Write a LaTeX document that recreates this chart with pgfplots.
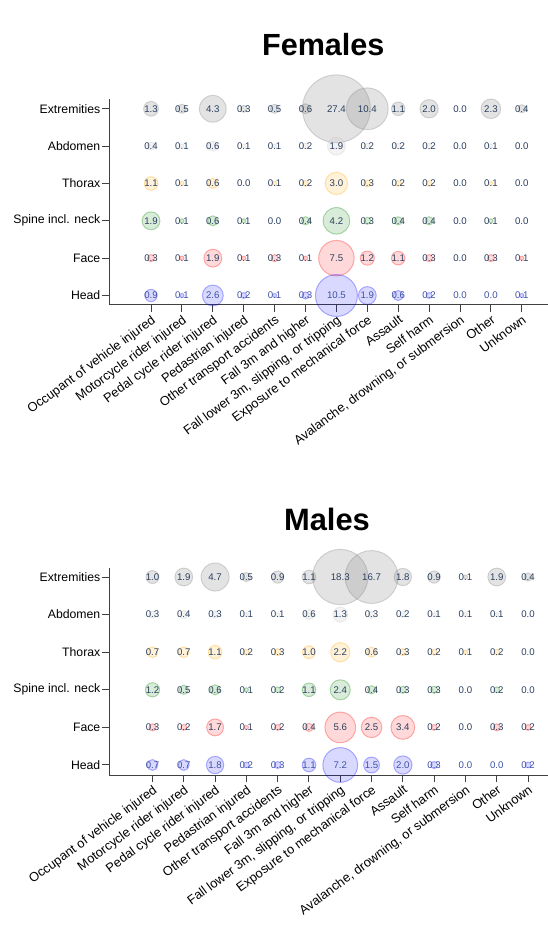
\documentclass[border=0pt]{standalone}
\usepackage{pgfplots}
\pgfplotsset{compat=1.18}
\usepackage{pgfplotstable}
\usepackage{fontspec}
\setmainfont{Liberation Sans}

\definecolor{txt}{HTML}{2A3F5F}
\definecolor{txthead}{RGB}{62,82,160}
\definecolor{cext}{RGB}{128,128,128}
\definecolor{cabd}{RGB}{200,200,200}
\definecolor{ctho}{RGB}{255,165,0}
\definecolor{cspi}{RGB}{0,128,0}
\definecolor{cfac}{RGB}{255,0,0}
\definecolor{chea}{RGB}{0,0,255}

\pgfplotstableread{
x ext abd tho spi fac hea
0 1.3 0.4 1.1 1.9 0.3 0.9
1 0.5 0.1 0.1 0.1 0.1 0.1
2 4.3 0.6 0.6 0.6 1.9 2.6
3 0.3 0.1 0.0 0.1 0.1 0.2
4 0.5 0.1 0.1 0.0 0.3 0.1
5 0.6 0.2 0.2 0.4 0.1 0.3
6 27.4 1.9 3.0 4.2 7.5 10.5
7 10.4 0.2 0.3 0.3 1.2 1.9
8 1.1 0.2 0.2 0.4 1.1 0.6
9 2.0 0.2 0.2 0.4 0.3 0.2
10 0.0 0.0 0.0 0.0 0.0 0.0
11 2.3 0.1 0.1 0.1 0.3 0.0
12 0.4 0.0 0.0 0.0 0.1 0.1
}\females

\pgfplotstableread{
x ext abd tho spi fac hea
0 1.0 0.3 0.7 1.2 0.3 0.7
1 1.9 0.4 0.7 0.5 0.2 0.7
2 4.7 0.3 1.1 0.6 1.7 1.8
3 0.5 0.1 0.2 0.1 0.1 0.2
4 0.9 0.1 0.3 0.2 0.2 0.3
5 1.1 0.6 1.0 1.1 0.4 1.1
6 18.3 1.3 2.2 2.4 5.6 7.2
7 16.7 0.3 0.6 0.4 2.5 1.5
8 1.8 0.2 0.3 0.3 3.4 2.0
9 0.9 0.1 0.2 0.3 0.2 0.3
10 0.1 0.1 0.1 0.0 0.0 0.0
11 1.9 0.1 0.2 0.2 0.3 0.0
12 0.4 0.0 0.0 0.0 0.2 0.2
}\males

\pgfplotsset{
  bub/.style n args={3}{only marks, mark=*,
    mark options={fill=#2, fill opacity=#3, draw=#2, draw opacity=0.3, line width=1bp},
    visualization depends on={\thisrow{#1} \as \val},
    scatter,
    scatter/@pre marker code/.code={%
      \pgfmathsetmacro\rr{6.5*sqrt(\val)}%
      \ifdim\rr pt<0.05pt \scope[draw opacity=0,fill opacity=0]\else\scope[mark size=\rr pt]\fi},
    scatter/@post marker code/.code={\endscope},
  },
  lab/.style={draw=none, mark=none, point meta=explicit symbolic,
    nodes near coords,
    every node near coord/.style={anchor=center, inner sep=0pt, text=#1,
      font=\fontsize{9.7}{11}\selectfont}},
  lab/.default=txt,
  panel/.style={
    scale only axis, anchor=south west, width=440bp,
    clip=false,
    axis x line*=bottom, axis y line*=left,
    axis line style={-, black!75, line width=1bp},
    tick align=outside, major tick length=7bp,
    tick style={black!75, line width=1bp},
    xtick={0,...,12}, ytick={0,...,5},
    yticklabels={Head,Face,Spine incl. neck,Thorax,Abdomen,Extremities},
    xticklabels={Occupant of vehicle injured,Motorcycle rider injured,Pedal cycle rider injured,Pedastrian injured,Other transport accidents,Fall 3m and higher,{Fall lower 3m, slipping, or tripping},Exposure to mechanical force,Assault,Self harm,{Avalanche, drowning, or submersion},Other,Unknown},
    yticklabel style={font=\fontsize{12.3}{14}\selectfont, inner sep=1.5bp},
    xticklabel style={font=\fontsize{12.9}{15}\selectfont, rotate=36.4, anchor=north east, inner sep=1.5bp},
  },
}

\begin{document}
\begin{tikzpicture}
\useasboundingbox (0,0) rectangle (548bp,936bp);
\node[anchor=base, font=\fontsize{30.7}{34}\selectfont\bfseries] at (323.3bp,880.3bp) {Females};
\node[anchor=base, font=\fontsize{31}{34}\selectfont\bfseries] at (327bp,405bp) {Males};

\begin{axis}[panel, at={(109bp,631bp)}, height=206bp,
  xmin=-1.36, xmax=12.88, ymin=-0.254, ymax=5.262]
\addplot[bub={ext}{cext}{0.22}] table[x=x, y expr=5] \females;
\addplot[bub={abd}{cabd}{0.22}] table[x=x, y expr=4] \females;
\addplot[bub={tho}{ctho}{0.15}] table[x=x, y expr=3] \females;
\addplot[bub={spi}{cspi}{0.15}] table[x=x, y expr=2] \females;
\addplot[bub={fac}{cfac}{0.15}] table[x=x, y expr=1] \females;
\addplot[bub={hea}{chea}{0.15}] table[x=x, y expr=0] \females;
\addplot[lab] table[x=x, y expr=5, meta=ext] \females;
\addplot[lab] table[x=x, y expr=4, meta=abd] \females;
\addplot[lab] table[x=x, y expr=3, meta=tho] \females;
\addplot[lab] table[x=x, y expr=2, meta=spi] \females;
\addplot[lab] table[x=x, y expr=1, meta=fac] \females;
\addplot[lab=txthead] table[x=x, y expr=0, meta=hea] \females;
\end{axis}

\begin{axis}[panel, at={(109bp,161bp)}, height=207bp,
  xmin=-1.39, xmax=12.67, ymin=-0.266, ymax=5.24]
\addplot[bub={ext}{cext}{0.22}] table[x=x, y expr=5] \males;
\addplot[bub={abd}{cabd}{0.22}] table[x=x, y expr=4] \males;
\addplot[bub={tho}{ctho}{0.15}] table[x=x, y expr=3] \males;
\addplot[bub={spi}{cspi}{0.15}] table[x=x, y expr=2] \males;
\addplot[bub={fac}{cfac}{0.15}] table[x=x, y expr=1] \males;
\addplot[bub={hea}{chea}{0.15}] table[x=x, y expr=0] \males;
\addplot[lab] table[x=x, y expr=5, meta=ext] \males;
\addplot[lab] table[x=x, y expr=4, meta=abd] \males;
\addplot[lab] table[x=x, y expr=3, meta=tho] \males;
\addplot[lab] table[x=x, y expr=2, meta=spi] \males;
\addplot[lab] table[x=x, y expr=1, meta=fac] \males;
\addplot[lab=txthead] table[x=x, y expr=0, meta=hea] \males;
\end{axis}
\end{tikzpicture}
\end{document}
